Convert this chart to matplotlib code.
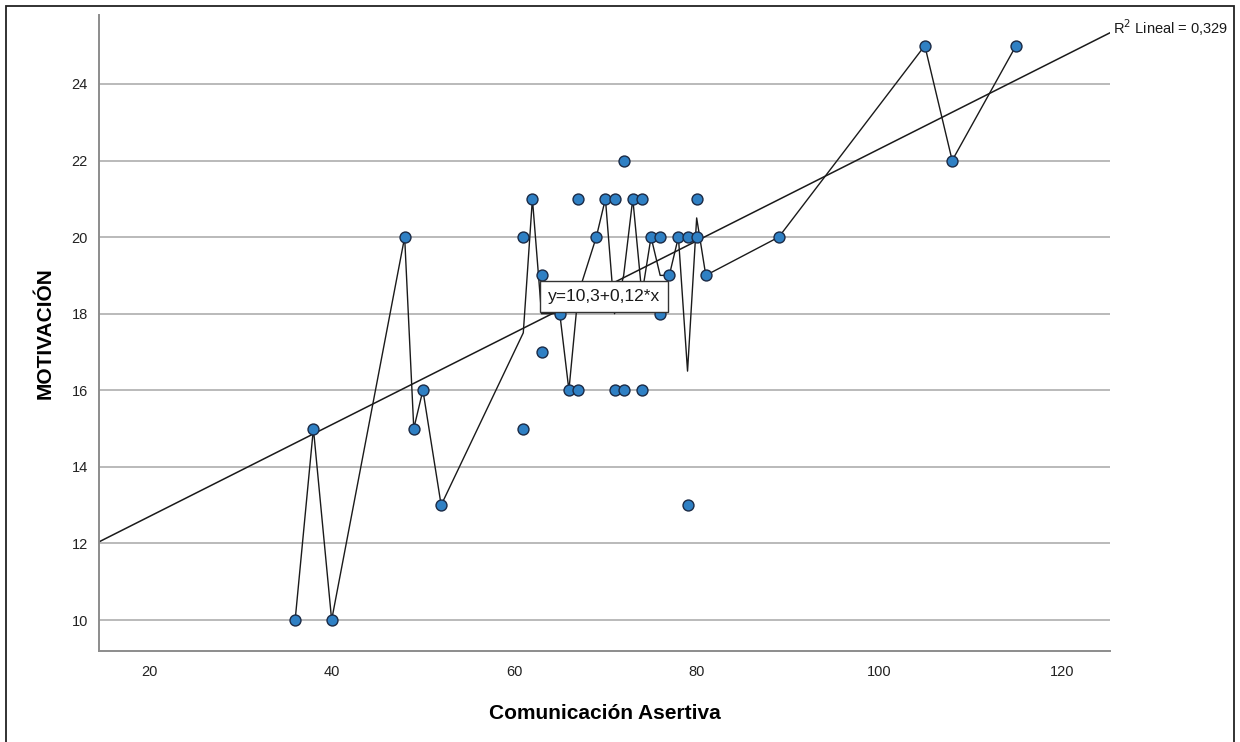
import matplotlib
matplotlib.use('Agg')
import matplotlib.pyplot as plt
from matplotlib.patches import Rectangle

plt.rcParams['font.family'] = ['Liberation Sans', 'DejaVu Sans']

# --- datos ---
comunicacion = [36, 38, 40, 48, 49, 50, 52, 61, 61, 62, 63, 63, 65, 66, 67, 67,
                69, 70, 71, 71, 72, 72, 73, 74, 74, 75, 76, 76, 77, 78, 79, 79,
                80, 80, 81, 89, 105, 108, 115]
motivacion = [10, 15, 10, 20, 15, 16, 13, 20, 15, 21, 19, 17, 18, 16, 16, 21,
              20, 21, 21, 16, 22, 16, 21, 21, 16, 20, 20, 18, 19, 20, 20, 13,
              20, 21, 19, 20, 25, 22, 25]

# linea de interpolacion (media por valor de x)
linea_x = [36, 38, 40, 48, 49, 50, 52, 61, 62, 63, 65, 66, 67, 69, 70, 71, 72,
           73, 74, 75, 76, 77, 78, 79, 80, 81, 89, 105, 108, 115]
linea_y = [10, 15, 10, 20, 15, 16, 13, 17.5, 21, 18, 18, 16, 18.5, 20, 21, 18,
           19, 21, 18.5, 20, 19, 19, 20, 16.5, 20.5, 19, 20, 25, 22, 25]

# recta de ajuste
intercepto = 10.3
pendiente = 0.12
r2 = '0,329'

xlim = (14.5, 125.3)
ylim = (9.19, 25.8)

fig = plt.figure(figsize=(12.4, 7.42), dpi=100)
ax = fig.add_axes([0.0798, 0.1226, 0.8154, 0.8572])

ax.set_xlim(*xlim)
ax.set_ylim(*ylim)
ax.set_xticks([20, 40, 60, 80, 100, 120])
ax.set_yticks([10, 12, 14, 16, 18, 20, 22, 24])

ax.grid(axis='y', color='#b4b4b4', linewidth=1.3)
ax.set_axisbelow(True)
for s in ['top', 'right']:
    ax.spines[s].set_visible(False)
for s in ['left', 'bottom']:
    ax.spines[s].set_color('#8c8c8c')
    ax.spines[s].set_linewidth(1.4)
ax.tick_params(length=0, labelsize=10.5, colors='#222222')
ax.tick_params(axis='x', pad=10)
ax.tick_params(axis='y', pad=8)

# recta
fx = list(xlim)
fy = [intercepto + pendiente * v for v in fx]
ax.plot(fx, fy, color='#1a1a1a', linewidth=1.1, zorder=2)

# interpolacion
ax.plot(linea_x, linea_y, color='#1a1a1a', linewidth=1.0, zorder=2)

# puntos
ax.scatter(comunicacion, motivacion, s=62, color='#2f80c4',
           edgecolors='#1b2a45', linewidths=1.0, zorder=3)

# etiqueta de la ecuacion
ax.text(69.8, 18.45, 'y=10,3+0,12*x', fontsize=12.5,
        ha='center', va='center', color='#1a1a1a', zorder=4,
        bbox=dict(boxstyle='square,pad=0.45', facecolor='white',
                  edgecolor='#333333', linewidth=1.0))

ax.text(xlim[1] + 0.3, 25.46, 'R$^2$ Lineal = ' + r2, fontsize=10.5,
        ha='left', va='center', color='#1a1a1a', clip_on=False)

ax.set_xlabel('Comunicación Asertiva', fontsize=15, fontweight='bold', labelpad=18)
ax.set_ylabel('MOTIVACIÓN', fontsize=15, fontweight='bold', labelpad=12)

# marco exterior
fig.patches.append(Rectangle((6 / 1240, -0.01), 1228 / 1240, 1 - 6 / 742 + 0.01,
                             transform=fig.transFigure, fill=False,
                             edgecolor='#222222', linewidth=1.3))

fig.savefig('out.png', dpi=100)
